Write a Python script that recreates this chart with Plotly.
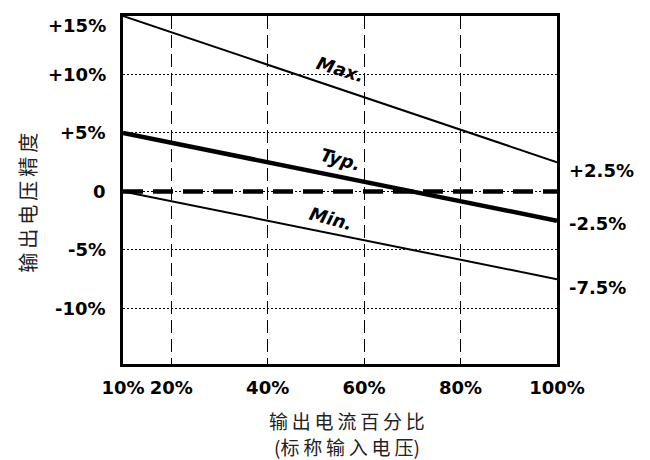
import plotly.graph_objects as go

load_pct = [10, 100]
max_acc = [15, 2.5]
typ_acc = [5, -2.5]
min_acc = [0, -7.5]
nominal = [0, 0]

x_ticks = [10, 20, 40, 60, 80, 100]
x_labels = ["10%", "20%", "40%", "60%", "80%", "100%"]
y_ticks = [15, 10, 5, 0, -5, -10]
y_labels = ["+15%", "+10%", "+5%", "0", "-5%", "-10%"]
end_labels = ["+2.5%", "-2.5%", "-7.5%"]
end_values = [2.5, -2.5, -7.5]
end_shift = [-8, -3, -8]

FONT = "DejaVu Sans"
CJK = "Noto Sans CJK SC"
SP = "\u2009"

fig = go.Figure()
fig.add_trace(go.Scatter(x=load_pct, y=nominal, mode="lines",
                         line=dict(color="black", width=4.5, dash="20px,10px")))
fig.add_trace(go.Scatter(x=load_pct, y=max_acc, mode="lines",
                         line=dict(color="black", width=2)))
fig.add_trace(go.Scatter(x=load_pct, y=typ_acc, mode="lines",
                         line=dict(color="black", width=4.5)))
fig.add_trace(go.Scatter(x=load_pct, y=min_acc, mode="lines",
                         line=dict(color="black", width=2)))

# y tick labels (drawn at the axis tick positions; top one nudged inside the page)
for t, v in zip(y_labels, y_ticks):
    fig.add_annotation(x=0, y=v, xref="paper", yref="y", text="<b>" + t + "</b>",
                       showarrow=False, xanchor="right", yanchor="middle",
                       xshift=-15, yshift=(-9 if v == max(y_ticks) else 0),
                       font=dict(family=FONT, size=18, color="black"))

# series labels
for txt, x, y, ang in [("Max.", 55.2, 10.4, 17), ("Typ.", 55.2, 2.7, 15), ("Min.", 53.1, -2.35, 15)]:
    fig.add_annotation(x=x, y=y, xref="x", yref="y", text="<b><i>" + txt + "</i></b>",
                       showarrow=False, textangle=ang,
                       font=dict(family=FONT, size=18, color="black"))

# end values on the right
for txt, v, s in zip(end_labels, end_values, end_shift):
    fig.add_annotation(x=100, y=v, xref="x", yref="y", text="<b>" + txt + "</b>",
                       showarrow=False, xanchor="left", xshift=10, yshift=s,
                       font=dict(family=FONT, size=18, color="black"))

# axis titles
xt1 = SP.join("输出电流百分比")
xt2 = "(" + SP.join("标称输入电压") + ")"
for txt, yy in [(xt1, -0.161), (xt2, -0.2385)]:
    fig.add_annotation(x=0.516, y=yy, xref="paper", yref="paper",
                       text=txt, showarrow=False, xanchor="center", yanchor="middle",
                       font=dict(family=CJK, size=19, color="#222"))
fig.add_annotation(x=-0.219, y=0.463, xref="paper", yref="paper",
                   text=SP.join("输出电压精度"), showarrow=False, textangle=-90,
                   xanchor="center", yanchor="middle",
                   font=dict(family=CJK, size=20, color="#222"))

fig.update_layout(
    width=642, height=452,
    margin=dict(l=115, r=93, t=8, b=96),
    paper_bgcolor="white", plot_bgcolor="white",
    showlegend=False,
    font=dict(family=FONT, size=18, color="black"),
)
fig.update_xaxes(range=[10, 100], tickvals=x_ticks,
                 ticktext=["<b>" + t + "</b>" for t in x_labels],
                 showgrid=True, gridcolor="black", gridwidth=1, griddash="13px,6px",
                 showline=True, linecolor="black", linewidth=2.5, mirror=True,
                 ticks="", ticklabelstandoff=6, zeroline=False, automargin=False,
                 ticklabeloverflow="allow")
fig.update_yaxes(range=[-14.75, 15], tickvals=y_ticks, showticklabels=False,
                 showgrid=True, gridcolor="black", gridwidth=1, griddash="2px,2px",
                 showline=True, linecolor="black", linewidth=2.5, mirror=True,
                 ticks="", zeroline=False, automargin=False)

fig.write_html("out.html")
